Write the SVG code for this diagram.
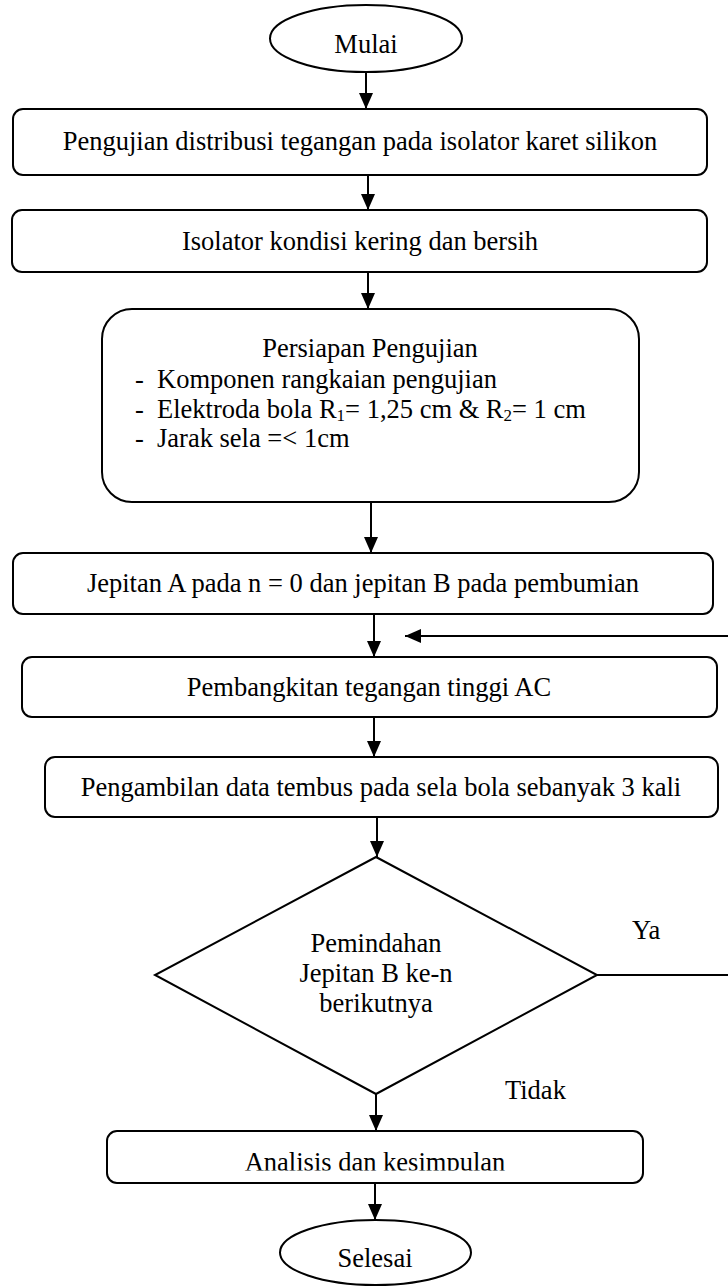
<svg xmlns="http://www.w3.org/2000/svg" width="728" height="1286" viewBox="0 0 728 1286">
<style>
.n{fill:#fff;stroke:#000;stroke-width:2}
.t{font-family:"Liberation Serif","Times New Roman",serif;font-size:26.5px;fill:#000}
.c{text-anchor:middle}
.e{stroke:#000;stroke-width:2;fill:none}
.a{marker-end:url(#ah)}
</style>
<defs>
<marker id="ah" markerUnits="userSpaceOnUse" markerWidth="16" markerHeight="14" refX="16" refY="7" orient="auto">
<path d="M0,0 L16,7 L0,14 z" fill="#000"/>
</marker>
<clipPath id="clipA"><rect x="100" y="1131" width="560" height="39.5"/></clipPath>
</defs>
<rect width="728" height="1286" fill="#fff"/>
<g id="connectors">
<line class="e a" x1="366" y1="72" x2="366" y2="109"/>
<line class="e a" x1="368" y1="175" x2="368" y2="210"/>
<line class="e a" x1="368" y1="272" x2="368" y2="309"/>
<line class="e a" x1="371" y1="502" x2="371" y2="553"/>
<line class="e a" x1="374" y1="614" x2="374" y2="657"/>
<line class="e a" x1="374" y1="717" x2="374" y2="757"/>
<line class="e a" x1="377" y1="817" x2="377" y2="857"/>
<line class="e a" x1="376" y1="1094" x2="376" y2="1131"/>
<line class="e a" x1="375" y1="1183" x2="375" y2="1220"/>
<line class="e a" x1="728" y1="636" x2="405" y2="636"/>
<line class="e" x1="597" y1="975" x2="728" y2="975"/>
<text class="t" x="632" y="939">Ya</text>
<text class="t" x="505" y="1099">Tidak</text>
</g>
<g id="mulai">
<ellipse class="n" cx="366" cy="38.5" rx="96" ry="33.5"/>
<text class="t c" x="366" y="53">Mulai</text>
</g>
<g id="pengujian">
<rect class="n" x="13" y="109" width="694" height="66" rx="10"/>
<text class="t c" x="360" y="150">Pengujian distribusi tegangan pada isolator karet silikon</text>
</g>
<g id="isolator">
<rect class="n" x="12" y="210" width="695" height="62" rx="10"/>
<text class="t c" x="360" y="250">Isolator kondisi kering dan bersih</text>
</g>
<g id="persiapan">
<rect class="n" x="102" y="309" width="537" height="193" rx="30"/>
<text class="t c" x="370" y="357">Persiapan Pengujian</text>
<text class="t" x="135" y="388">-</text>
<text class="t" x="157" y="388">Komponen rangkaian pengujian</text>
<text class="t" x="135" y="418">-</text>
<text class="t" x="157" y="418">Elektroda bola R<tspan font-size="17" dy="3">1</tspan><tspan dy="-3">= 1,25 cm &amp; R</tspan><tspan font-size="17" dy="3">2</tspan><tspan dy="-3">= 1 cm</tspan></text>
<text class="t" x="135" y="447">-</text>
<text class="t" x="157" y="447">Jarak sela =&lt; 1cm</text>
</g>
<g id="jepitan">
<rect class="n" x="13" y="553" width="700" height="61" rx="10"/>
<text class="t c" x="363" y="592">Jepitan A pada n = 0 dan jepitan B pada pembumian</text>
</g>
<g id="pembangkitan">
<rect class="n" x="22" y="657" width="695" height="60" rx="10"/>
<text class="t c" x="369" y="696">Pembangkitan tegangan tinggi AC</text>
</g>
<g id="pengambilan">
<rect class="n" x="45" y="757" width="673" height="60" rx="10"/>
<text class="t c" x="381" y="796">Pengambilan data tembus pada sela bola sebanyak 3 kali</text>
</g>
<g id="keputusan">
<polygon class="n" points="376,857 597,975 376,1094 155,975"/>
<text class="t c" x="376" y="952">Pemindahan</text>
<text class="t c" x="376" y="982">Jepitan B ke-n</text>
<text class="t c" x="376" y="1012">berikutnya</text>
</g>
<g id="analisis">
<rect class="n" x="107" y="1131" width="536" height="52" rx="10"/>
<text class="t c" x="375" y="1171" clip-path="url(#clipA)">Analisis dan kesimpulan</text>
</g>
<g id="selesai">
<ellipse class="n" cx="375.5" cy="1252.5" rx="95.5" ry="32.5"/>
<text class="t c" x="375" y="1267">Selesai</text>
</g>
</svg>
